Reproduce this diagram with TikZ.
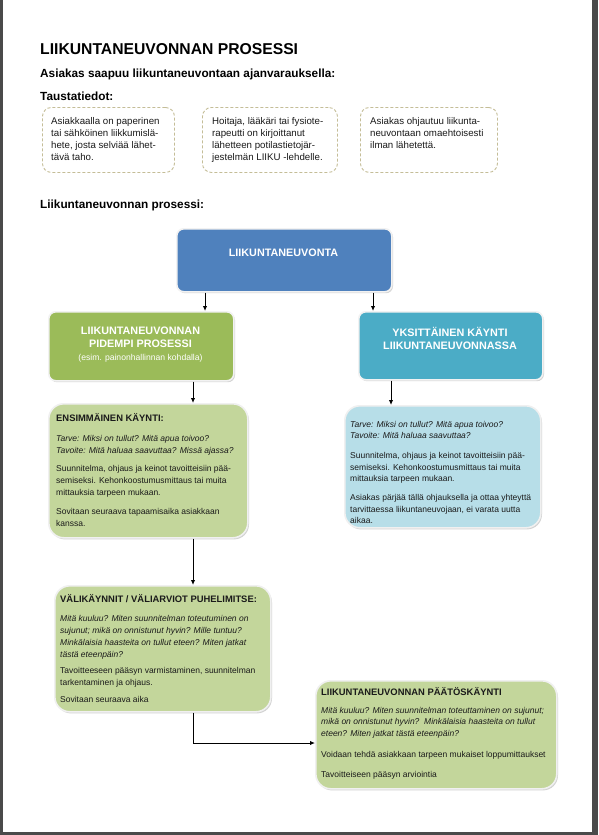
\documentclass[tikz,border=0pt]{standalone}
\usepackage{fontspec}
\setmainfont{Liberation Sans}
\usetikzlibrary{arrows.meta,shadows}
\definecolor{pageshade}{HTML}{4A4A4A}
\definecolor{cblue}{HTML}{4F81BD}
\definecolor{cgreen}{HTML}{9BBB59}
\definecolor{cteal}{HTML}{4BACC6}
\definecolor{lgreen}{HTML}{C3D69B}
\definecolor{lblue}{HTML}{B7DEE8}
\definecolor{dashc}{HTML}{C4BD97}
\definecolor{txt}{HTML}{1A1A1A}
\tikzset{
  dbox/.style={draw=dashc, line width=0.9pt, dash pattern=on 3pt off 2pt, rounded corners=9pt, fill=white, anchor=north west, inner sep=0pt},
  dtext/.style={anchor=north west, inner sep=0pt, align=left, text=txt, font=\fontsize{9.7}{12}\selectfont},
  topbox/.style={draw=white!90!gray, line width=1.6pt, rounded corners=7pt, anchor=north west, inner sep=0pt,
     drop shadow={shadow xshift=1.2pt, shadow yshift=-1.4pt, opacity=0.35}},
  lightbox/.style={draw=white!88!gray, line width=1.6pt, rounded corners=15pt, anchor=north west, inner sep=0pt,
     drop shadow={shadow xshift=1.2pt, shadow yshift=-1.6pt, opacity=0.35}},
  toptext/.style={inner sep=0pt, align=center, text=white, font=\fontsize{10.8}{13}\selectfont\bfseries},
  bodytext/.style={anchor=north west, inner sep=0pt, align=left, text=txt, font=\fontsize{8.5}{12}\selectfont},
  heading/.style={anchor=base west, inner sep=0pt, text=black, font=\fontsize{11.8}{14}\selectfont\bfseries},
  arr/.style={line width=1pt, -{Latex[length=5pt,width=4.5pt]}},
}
\newcommand{\btitle}[1]{{\fontsize{9.4}{11}\selectfont\bfseries #1}}
\begin{document}
\begin{tikzpicture}[x=1pt,y=-1pt]
\fill[pageshade] (0,0) rectangle (598,835);
\fill[white] (3,0) rectangle (592,832);
\useasboundingbox (0,0) rectangle (598,835);

% headings
\node[anchor=base west, inner sep=0pt, font=\fontsize{15.7}{18}\selectfont\bfseries] (title) at (40,54) {LIIKUNTANEUVONNAN PROSESSI};
\node[heading] (h1) at (40,77) {Asiakas saapuu liikuntaneuvontaan ajanvarauksella:};
\node[heading] (h2) at (40,100) {Taustatiedot:};
\node[heading] (h3) at (40,208) {Liikuntaneuvonnan prosessi:};

% dashed background boxes
\node[dbox, minimum width=132pt, minimum height=65pt] (d1) at (42,107) {};
\node[dbox, minimum width=135pt, minimum height=65pt] (d2) at (202,107) {};
\node[dbox, minimum width=137pt, minimum height=65pt] (d3) at (360,107) {};
\node[dtext] (d1t) at (51,117) {Asiakkaalla on paperinen\\tai sähköinen liikkumislä-\\hete, josta selviää lähet-\\tävä taho.};
\node[dtext] (d2t) at (212,117) {Hoitaja, lääkäri tai fysiote-\\rapeutti on kirjoittanut\\lähetteen potilastietojär-\\jestelmän LIIKU -lehdelle.};
\node[dtext] (d3t) at (370,117) {Asiakas ohjautuu liikunta-\\neuvontaan omaehtoisesti\\ilman lähetettä.};

% top level boxes
\node[topbox, fill=cblue, minimum width=215pt, minimum height=63pt] (lk) at (176,228) {};
\node[toptext] (lkt) at (283.5,253) {LIIKUNTANEUVONTA};
\node[topbox, fill=cgreen, minimum width=185pt, minimum height=69pt] (pp) at (48,311) {};
\node[toptext] (ppt) at (140.5,345) {LIIKUNTANEUVONNAN\\PIDEMPI PROSESSI\\{\mdseries\fontsize{8.6}{13}\selectfont (esim. painonhallinnan kohdalla)}};
\node[topbox, fill=cteal, minimum width=184pt, minimum height=68pt] (yk) at (358,311) {};
\node[toptext] (ykt) at (450,338.5) {YKSITTÄINEN KÄYNTI\\LIIKUNTANEUVONNASSA};

% light boxes
\node[lightbox, fill=lgreen, minimum width=199pt, minimum height=134pt] (en) at (48,403) {};
\node[bodytext] (ent) at (56,413) {\btitle{ENSIMMÄINEN KÄYNTI:}\\[8pt]
\textit{Tarve: Miksi on tullut? Mitä apua toivoo?}\\
\textit{Tavoite: Mitä haluaa saavuttaa? Missä ajassa?}\\[6pt]
Suunnitelma, ohjaus ja keinot tavoitteisiin pää-\\
semiseksi. Kehonkoostumusmittaus tai muita\\
mittauksia tarpeen mukaan.\\[7pt]
Sovitaan seuraava tapaamisaika asiakkaan\\
kanssa.};

\node[lightbox, fill=lblue, minimum width=196pt, minimum height=122pt] (lb) at (344,405) {};
\node[bodytext, font=\fontsize{8.5}{11.3}\selectfont] (lbt) at (350,421) {\textit{Tarve: Miksi on tullut? Mitä apua toivoo?}\\
\textit{Tavoite: Mitä haluaa saavuttaa?}\\[9pt]
Suunnitelma, ohjaus ja keinot tavoitteisiin pää-\\
semiseksi. Kehonkoostumusmittaus tai muita\\
mittauksia tarpeen mukaan.\\[8pt]
Asiakas pärjää tällä ohjauksella ja ottaa yhteyttä\\
tarvittaessa liikuntaneuvojaan, ei varata uutta\\
aikaa.};

\node[lightbox, fill=lgreen, minimum width=216pt, minimum height=126pt] (va) at (54,585) {};
\node[bodytext] (vat) at (60,594) {\btitle{VÄLIKÄYNNIT / VÄLIARVIOT PUHELIMITSE:}\\[7pt]
\textit{Mitä kuuluu? Miten suunnitelman toteutuminen on}\\
\textit{sujunut; mikä on onnistunut hyvin? Mille tuntuu?}\\
\textit{Minkälaisia haasteita on tullut eteen? Miten jatkat}\\
\textit{tästä eteenpäin?}\\[4pt]
Tavoitteeseen pääsyn varmistaminen, suunnitelman\\
tarkentaminen ja ohjaus.\\[5pt]
Sovitaan seuraava aika};

\node[lightbox, fill=lgreen, minimum width=241pt, minimum height=108pt] (pa) at (315,680) {};
\node[bodytext, font=\fontsize{8.5}{11.5}\selectfont] (pat) at (321,687) {\btitle{LIIKUNTANEUVONNAN PÄÄTÖSKÄYNTI}\\[6.5pt]
\textit{Mitä kuuluu? Miten suunnitelman toteuttaminen on sujunut;}\\
\textit{mikä on onnistunut hyvin?\ \ Minkälaisia haasteita on tullut}\\
\textit{eteen? Miten jatkat tästä eteenpäin?}\\[9.5pt]
Voidaan tehdä asiakkaan tarpeen mukaiset loppumittaukset\\[8.5pt]
Tavoitteiseen pääsyn arviointia};

% connectors
\coordinate (c1) at (205,0);
\coordinate (c2) at (373,0);
\coordinate (c3) at (193,0);
\coordinate (c4) at (391,0);
\coordinate (c5) at (0,743);
\draw[arr] (c1 |- lk.south) -- (c1 |- pp.north);
\draw[arr] (c2 |- lk.south) -- (c2 |- yk.north);
\draw[arr] (c3 |- pp.south) -- (c3 |- en.north);
\draw[arr] (c4 |- yk.south) -- (c4 |- lb.north);
\draw[arr] (c3 |- en.south) -- (c3 |- va.north);
\draw[arr] (c3 |- va.south) |- (pa.west |- c5);
\end{tikzpicture}
\end{document}
